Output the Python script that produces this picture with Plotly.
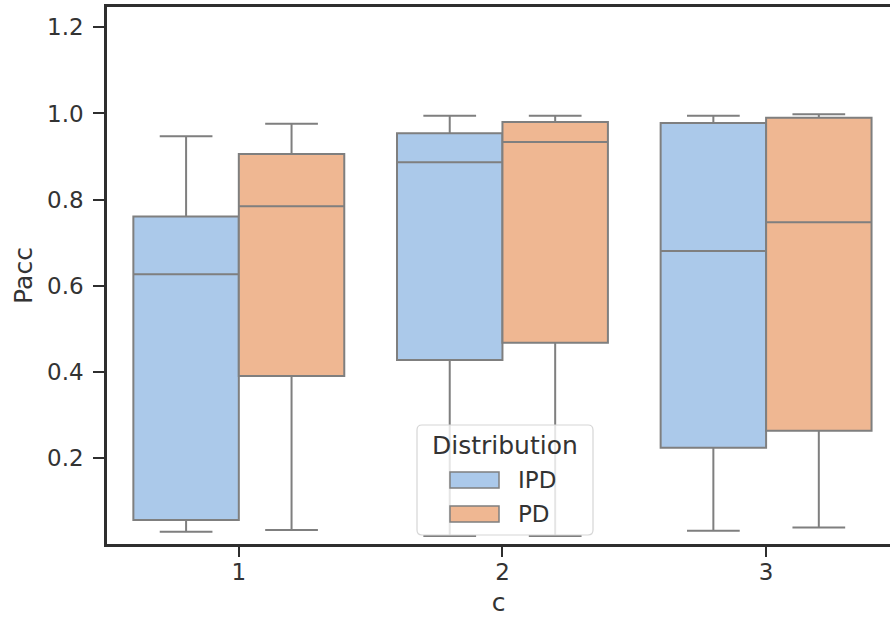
import plotly.graph_objects as go

# ---- data ----
categories = ["1", "2", "3"]
x_pos = [1, 2, 3]
series_names = ["IPD", "PD"]

ipd_lower = [0.030, 0.020, 0.032]
ipd_q1 = [0.057, 0.428, 0.225]
ipd_median = [0.627, 0.887, 0.681]
ipd_q3 = [0.761, 0.954, 0.978]
ipd_upper = [0.947, 0.995, 0.995]

pd_lower = [0.034, 0.020, 0.040]
pd_q1 = [0.391, 0.468, 0.264]
pd_median = [0.785, 0.934, 0.748]
pd_q3 = [0.906, 0.980, 0.990]
pd_upper = [0.976, 0.995, 0.998]

y_ticks = [0.2, 0.4, 0.6, 0.8, 1.0, 1.2]
y_tick_labels = ["0.2", "0.4", "0.6", "0.8", "1.0", "1.2"]

# ---- styling ----
FONT = "DejaVu Sans"
TXT = "#333333"
AX = "#2e2e2e"
LINE = "#7f7f7f"
COLORS = ["#abc9ea", "#efb792"]

W, H = 890, 617
ML, MR, MT, MB = 107, 0, 7, 73
PW, PH = W - ML - MR, H - MT - MB


def px(xp):
    return (xp - ML) / PW


def py(yp):
    return (H - MB - yp) / PH


fig = go.Figure()
stats = [
    (ipd_lower, ipd_q1, ipd_median, ipd_q3, ipd_upper),
    (pd_lower, pd_q1, pd_median, pd_q3, pd_upper),
]
for name, color, (lo, q1, med, q3, up) in zip(series_names, COLORS, stats):
    fig.add_trace(go.Box(
        name=name, x=x_pos, q1=q1, median=med, q3=q3,
        lowerfence=lo, upperfence=up,
        fillcolor=color, line=dict(color=LINE, width=2),
        whiskerwidth=0.5, boxpoints=False, offsetgroup=name,
        showlegend=False, hoverinfo="skip",
    ))

fig.update_layout(
    width=W, height=H,
    margin=dict(l=ML, r=MR, t=MT, b=MB),
    paper_bgcolor="white", plot_bgcolor="white",
    boxmode="group", boxgap=0.2, boxgroupgap=0,
    font=dict(family=FONT, color=TXT, size=24),
    showlegend=False,
)
fig.update_xaxes(
    range=[0.5, 3.47], tickvals=x_pos, ticktext=categories,
    showgrid=False, zeroline=False,
    showline=True, linecolor=AX, linewidth=2.5, mirror=True,
    ticks="outside", ticklen=10, tickwidth=2, tickcolor=AX,
    tickfont=dict(size=23, color=TXT), ticklabelstandoff=-4,
    title=dict(text="c", font=dict(size=25, color=TXT), standoff=11),
)
fig.update_yaxes(
    range=[0.0015, 1.247], tickvals=y_ticks, ticktext=y_tick_labels,
    showgrid=False, zeroline=False,
    showline=True, linecolor=AX, linewidth=2.5, mirror=False,
    ticks="outside", ticklen=11, tickwidth=2, tickcolor=AX,
    tickfont=dict(size=23, color=TXT), ticklabelstandoff=5,
    title=dict(text="Pacc", font=dict(size=25, color=TXT), standoff=8),
)

# ---- manual legend (matplotlib style) ----
bx0, bx1, by0, by1, r = 417, 593, 425, 535, 5
path = (
    f"M {px(bx0 + r)} {py(by0)} L {px(bx1 - r)} {py(by0)} "
    f"Q {px(bx1)} {py(by0)} {px(bx1)} {py(by0 + r)} "
    f"L {px(bx1)} {py(by1 - r)} Q {px(bx1)} {py(by1)} {px(bx1 - r)} {py(by1)} "
    f"L {px(bx0 + r)} {py(by1)} Q {px(bx0)} {py(by1)} {px(bx0)} {py(by1 - r)} "
    f"L {px(bx0)} {py(by0 + r)} Q {px(bx0)} {py(by0)} {px(bx0 + r)} {py(by0)} Z"
)
fig.add_shape(type="path", path=path, xref="paper", yref="paper",
              fillcolor="rgba(255,255,255,0.8)", line=dict(color="#d6d6d6", width=1.2),
              layer="above")
fig.add_annotation(text="Distribution", x=px(505), y=py(445), xref="paper", yref="paper",
                   showarrow=False, xanchor="center", yanchor="middle",
                   font=dict(size=25, color=TXT, family=FONT))
patch_y = [(472, 488), (506, 522)]
label_y = [480, 514]
for name, color, (y0, y1), ly in zip(series_names, COLORS, patch_y, label_y):
    fig.add_shape(type="rect", xref="paper", yref="paper",
                  x0=px(450), x1=px(499), y0=py(y1), y1=py(y0),
                  fillcolor=color, line=dict(color=LINE, width=1.5), layer="above")
    fig.add_annotation(text=name, x=px(516), y=py(ly), xref="paper", yref="paper",
                       showarrow=False, xanchor="left", yanchor="middle",
                       font=dict(size=23, color=TXT, family=FONT))

fig.write_html("out.html")
